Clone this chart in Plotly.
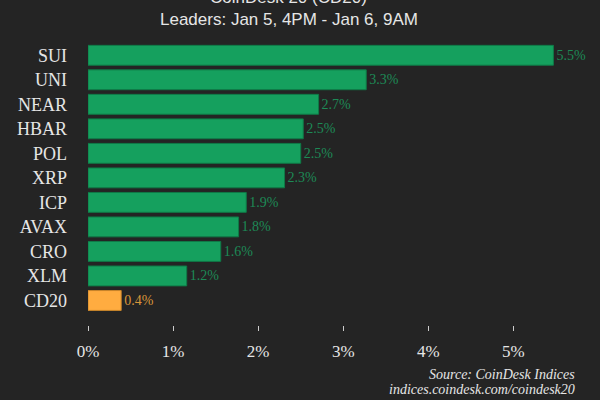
import plotly.graph_objects as go

categories = ["SUI", "UNI", "NEAR", "HBAR", "POL", "XRP", "ICP", "AVAX", "CRO", "XLM", "CD20"]
values = [5.47, 3.27, 2.71, 2.53, 2.50, 2.31, 1.86, 1.77, 1.56, 1.16, 0.39]
x_ticks = [0, 1, 2, 3, 4, 5]
x_tick_labels = ["0%", "1%", "2%", "3%", "4%", "5%"]
title_line1 = "CoinDesk 20 (CD20)"
title_line2 = "Leaders: Jan 5, 4PM - Jan 6, 9AM"
source_lines = ["Source: CoinDesk Indices", "indices.coindesk.com/coindesk20"]

GREEN = "#15a05e"
GREEN_LINE = "#0f7a47"
GREEN_TEXT = "#1d8a56"
ORANGE = "#ffac40"
ORANGE_LINE = "#c9852a"
ORANGE_TEXT = "#d8963a"
BG = "#242424"
TXT = "#e6e6e6"

cats_bottom_up = categories[::-1]
vals_bottom_up = values[::-1]
fill = [ORANGE if c == "CD20" else GREEN for c in cats_bottom_up]
line = [ORANGE_LINE if c == "CD20" else GREEN_LINE for c in cats_bottom_up]
tcol = [ORANGE_TEXT if c == "CD20" else GREEN_TEXT for c in cats_bottom_up]

fig = go.Figure(go.Bar(
    x=vals_bottom_up,
    y=cats_bottom_up,
    orientation="h",
    marker=dict(color=fill, line=dict(color=line, width=1)),
    text=[f"{v:.1f}%" for v in vals_bottom_up],
    textposition="outside",
    textfont=dict(family="Liberation Serif", size=14, color=tcol),
    cliponaxis=False,
    hoverinfo="skip",
))

fig.update_layout(
    width=600, height=400,
    margin=dict(l=88, r=10, t=43, b=75),
    paper_bgcolor=BG, plot_bgcolor=BG,
    bargap=0.19,
    showlegend=False,
    xaxis=dict(
        range=[0, 5.9], tickvals=x_ticks, ticktext=x_tick_labels,
        showgrid=False, zeroline=False, showline=False,
        ticks="outside", ticklen=5, tickwidth=1, tickcolor="#cccccc",
        ticklabelstandoff=6,
        tickfont=dict(family="Liberation Serif", size=17, color=TXT),
        fixedrange=True,
    ),
    yaxis=dict(
        type="category", categoryorder="array", categoryarray=cats_bottom_up,
        range=[-1.0, 10.5],
        showgrid=False, zeroline=False, showline=False, ticks="",
        ticklabelstandoff=20,
        tickfont=dict(family="Liberation Serif", size=18, color=TXT),
        fixedrange=True,
    ),
    annotations=[
        dict(text=title_line1, x=0.40, y=1.16, xref="paper", yref="paper",
             xanchor="center", yanchor="middle", showarrow=False,
             font=dict(family="Liberation Sans", size=17, color=TXT)),
        dict(text=title_line2, x=0.40, y=1.085, xref="paper", yref="paper",
             xanchor="center", yanchor="middle", showarrow=False,
             font=dict(family="Liberation Sans", size=17, color=TXT)),
        dict(text=source_lines[0], x=0.974, y=-0.174, xref="paper", yref="paper",
             xanchor="right", yanchor="middle", showarrow=False,
             font=dict(family="Liberation Serif", size=14, color=TXT, style="italic")),
        dict(text=source_lines[1], x=0.974, y=-0.227, xref="paper", yref="paper",
             xanchor="right", yanchor="middle", showarrow=False,
             font=dict(family="Liberation Serif", size=14, color=TXT, style="italic")),
    ],
)

fig.write_html(
    "out.html",
    config={"displayModeBar": False},
    post_script="document.body.style.margin='0';document.body.style.background='#242424';",
)
